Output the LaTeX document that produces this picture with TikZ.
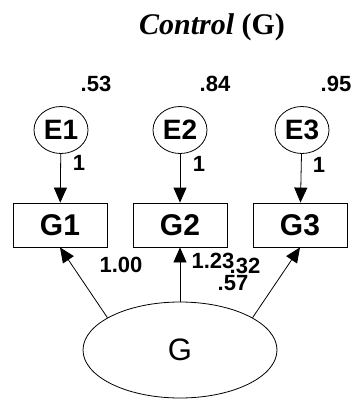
\documentclass[tikz,border=0pt]{standalone}
\usepackage{fontspec}
\setmainfont{Liberation Serif}
\setsansfont{Liberation Sans}
\usetikzlibrary{arrows.meta,positioning,shapes.geometric}

\begin{document}
\begin{tikzpicture}[
        x=1pt, y=-1pt,
        box/.style={draw, line width=0.8pt, minimum width=94pt, minimum height=44pt, inner sep=0pt, font=\sffamily\bfseries\fontsize{30}{30}\selectfont},
        err/.style={draw, ellipse, line width=0.8pt, minimum width=54pt, minimum height=47pt, inner sep=0pt, font=\sffamily\bfseries\fontsize{28}{28}\selectfont},
        latent/.style={draw, ellipse, line width=0.8pt, minimum width=194pt, minimum height=96pt, inner sep=0pt, font=\sffamily\fontsize{31}{31}\selectfont},
        num/.style={inner sep=0pt, font=\sffamily\bfseries\fontsize{22}{22}\selectfont},
        arrow/.style={-{Triangle[length=15pt, width=13pt]}, line width=0.8pt}
      ]
      \useasboundingbox (0,0) rectangle (355,399);
      \node[anchor=base] (title) at (212,34) {\fontsize{30}{30}\selectfont\bfseries\itshape Control \upshape(G)};
      % error terms and their variances
      \node[err] (e1) at (61,130) {E1};
      \node[err] (e2) at (180,130) {E2};
      \node[err] (e3) at (302,130) {E3};
      \node[num] (v1) at (96,84) {.53};
      \node[num] (v2) at (215,84) {.84};
      \node[num] (v3) at (336,84) {.95};
      % indicators
      \node[box] (g1) at (60,225) {G1};
      \node[box] (g2) at (180,225) {G2};
      \node[box] (g3) at (300,225) {G3};
      \node[latent] (g) at (180,350) {G};
      \draw[arrow] (e1) -- (g1);
      \draw[arrow] (e2) -- (g2);
      \draw[arrow] (e3) -- (g3);
      \node[num] (w1) at (79,163) {1};
      \node[num] (w2) at (199,164) {1};
      \node[num] (w3) at (319,165) {1};
      % loadings
      \draw[arrow] (g.156) -- (g1.south);
      \draw[arrow] (g) -- (g2);
      \draw[arrow] (g.24) -- (g3.south);
      \node[num] (l1) at (121,265) {1.00};
      \node[num] (l2) at (213,261) {1.23};
      \node[num] (l3) at (245,266) {.32};
      \node[num] (l4) at (233,283) {.57};
    \end{tikzpicture}
\end{document}
